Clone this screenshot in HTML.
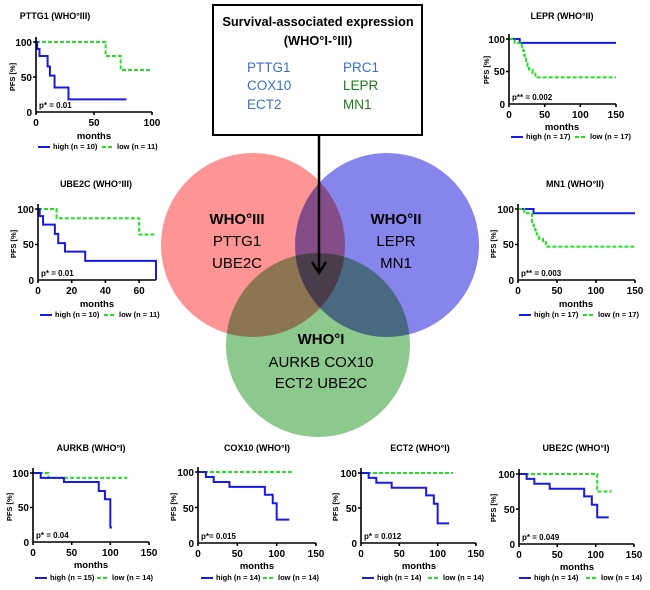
<!DOCTYPE html>
<html><head><meta charset="utf-8"><style>
body{margin:0;background:#fff}
svg{display:block;font-family:"Liberation Sans",Arial,sans-serif}
.t{font-weight:bold;font-size:9px;text-anchor:middle}
.tk{font-weight:bold;font-size:10px}
.m{font-weight:bold;font-size:9.5px;text-anchor:middle}
.lg{font-weight:bold;font-size:7.5px}
.p{font-weight:bold;font-size:8px}
.hi{fill:none;stroke:#1a1ae6;stroke-width:2}
.lo{fill:none;stroke:#22e022;stroke-width:2;stroke-dasharray:4 2}
.ax{stroke:#000;stroke-width:1.6;fill:none}
.v{mix-blend-mode:multiply}
</style></head><body>
<svg width="650" height="590" viewBox="0 0 650 590" xmlns="http://www.w3.org/2000/svg">
<!-- Venn -->
<g style="isolation:isolate">
<circle class="v" cx="253" cy="245" r="92" fill="#ff9494"/>
<circle class="v" cx="387" cy="245" r="92" fill="#8585eb"/>
<circle class="v" cx="318" cy="345" r="92" fill="#8cc98c"/>
</g>
<g font-size="15" text-anchor="middle">
<text x="237" y="224" font-weight="bold">WHO°III</text>
<text x="237" y="246">PTTG1</text>
<text x="237" y="268">UBE2C</text>
<text x="396" y="224" font-weight="bold">WHO°II</text>
<text x="396" y="246">LEPR</text>
<text x="396" y="268">MN1</text>
<text x="321" y="344" font-weight="bold">WHO°I</text>
<text x="321" y="367">AURKB  COX10</text>
<text x="321" y="388">ECT2  UBE2C</text>
</g>
<!-- box -->
<rect x="213" y="5" width="209" height="130" fill="#fff" stroke="#000" stroke-width="2"/>
<text x="318" y="26" font-size="12.8" font-weight="bold" text-anchor="middle">Survival-associated expression</text>
<text x="318" y="45" font-size="12.8" font-weight="bold" text-anchor="middle">(WHO°I-°III)</text>
<g font-size="13.5">
<text x="247" y="72" fill="#3a6fd0">PTTG1</text>
<text x="247" y="90" fill="#3a6fd0">COX10</text>
<text x="247" y="109" fill="#3a6fd0">ECT2</text>
<text x="343" y="72" fill="#3a6fd0">PRC1</text>
<text x="343" y="90" fill="#1e7a1e">LEPR</text>
<text x="343" y="109" fill="#1e7a1e">MN1</text>
</g>
<line x1="319" y1="135" x2="319" y2="270" stroke="#000" stroke-width="2.5"/>
<polyline points="312,262 319,273 326,262" fill="none" stroke="#000" stroke-width="2.5"/>

<!-- Plot 1 PTTG1 -->
<g>
<text class="t" x="55" y="19">PTTG1 (WHO°III)</text>
<g transform="translate(36,112) scale(1.16,-0.7)">
<polyline class="lo" vector-effect="non-scaling-stroke" points="0,100 60,100 60,80 73,80 73,60 100,60"/>
<polyline class="hi" vector-effect="non-scaling-stroke" points="0,100 1,100 1,90 3,90 3,80 10,80 10,65 12,65 12,52 16,52 16,35 28,35 28,18 78,18"/>
</g>
<path class="ax" d="M36,37V112H152M33,42H36M33,77H36M36,112v3M94,112v3M152,112v3"/>
<g class="tk" text-anchor="end"><text x="32" y="46">100</text><text x="32" y="81">50</text><text x="32" y="116">0</text></g>
<g class="tk" text-anchor="middle"><text x="36" y="126">0</text><text x="94" y="126">50</text><text x="152" y="126">100</text></g>
<text class="m" x="94" y="139">months</text>
<text class="p" x="39" y="108">p* = 0.01</text>
<text class="lg" transform="translate(15,77) rotate(-90)" text-anchor="middle" font-size="9">PFS [%]</text>
<line x1="38" y1="147" x2="50" y2="147" class="hi"/><text class="lg" x="53" y="149">high (n = 10)</text>
<line x1="102" y1="147" x2="114" y2="147" class="lo"/><text class="lg" x="117" y="149">low (n = 11)</text>
</g>

<!-- Plot 2 UBE2C III -->
<g>
<text class="t" x="96" y="187">UBE2C (WHO°III)</text>
<g transform="translate(38,280) scale(1.6857,-0.71)">
<polyline class="lo" vector-effect="non-scaling-stroke" points="0,100 11,100 11,87 60,87 60,64 70,64"/>
<polyline class="hi" vector-effect="non-scaling-stroke" points="0,100 1,100 1,90 3,90 3,78 10,78 10,65 12,65 12,52 16,52 16,40 28,40 28,27 70,27 70,0"/>
</g>
<path class="ax" d="M38,204V280H156M35,209H38M35,244.5H38M38,280v3M71.7,280v3M105.4,280v3M139.1,280v3"/>
<g class="tk" text-anchor="end"><text x="34" y="213">100</text><text x="34" y="248">50</text><text x="34" y="284">0</text></g>
<g class="tk" text-anchor="middle"><text x="38" y="294">0</text><text x="71.7" y="294">20</text><text x="105.4" y="294">40</text><text x="139.1" y="294">60</text></g>
<text class="m" x="97" y="307">months</text>
<text class="p" x="41" y="276">p* = 0.01</text>
<text class="lg" transform="translate(16,244) rotate(-90)" text-anchor="middle" font-size="9">PFS [%]</text>
<line x1="40" y1="315" x2="52" y2="315" class="hi"/><text class="lg" x="55" y="317">high (n = 10)</text>
<line x1="104" y1="315" x2="116" y2="315" class="lo"/><text class="lg" x="119" y="317">low (n = 11)</text>
</g>

<!-- Plot 3 LEPR -->
<g>
<text class="t" x="562" y="19">LEPR (WHO°II)</text>
<g transform="translate(509,104) scale(0.7133,-0.65)">
<polyline class="hi" vector-effect="non-scaling-stroke" points="0,100 15,100 15,94 150,94"/>
<polyline class="lo" vector-effect="non-scaling-stroke" points="0,100 8,100 8,94 18,94 18,88 20,88 20,82 21,82 21,76 22,76 22,70 24,70 24,64 26,64 26,58 28,58 28,53 33,53 33,47 37,47 37,41 150,41"/>
</g>
<path class="ax" d="M509,34V104H616M506,39H509M506,71.5H509M509,104v3M544.7,104v3M580.3,104v3M616,104v3"/>
<g class="tk" text-anchor="end"><text x="505" y="43">100</text><text x="505" y="75">50</text><text x="505" y="108">0</text></g>
<g class="tk" text-anchor="middle"><text x="509" y="118">0</text><text x="544.7" y="118">50</text><text x="580.3" y="118">100</text><text x="616" y="118">150</text></g>
<text class="m" x="562" y="130">months</text>
<text class="p" x="512" y="100">p** = 0.002</text>
<text class="lg" transform="translate(489,70) rotate(-90)" text-anchor="middle" font-size="9">PFS [%]</text>
<line x1="511" y1="137" x2="523" y2="137" class="hi"/><text class="lg" x="526" y="139">high (n = 17)</text>
<line x1="575" y1="137" x2="587" y2="137" class="lo"/><text class="lg" x="590" y="139">low (n = 17)</text>
</g>

<!-- Plot 4 MN1 -->
<g>
<text class="t" x="575" y="187">MN1 (WHO°II)</text>
<g transform="translate(518,280) scale(0.78,-0.71)">
<polyline class="hi" vector-effect="non-scaling-stroke" points="0,100 20,100 20,94 150,94"/>
<polyline class="lo" vector-effect="non-scaling-stroke" points="0,100 8,100 8,94 18,94 18,82 20,82 20,76 22,76 22,70 24,70 24,64 27,64 27,58 32,58 32,53 36,53 36,47 150,47"/>
</g>
<path class="ax" d="M518,204V280H635M515,209H518M515,244.5H518M518,280v3M557,280v3M596,280v3M635,280v3"/>
<g class="tk" text-anchor="end"><text x="514" y="213">100</text><text x="514" y="248">50</text><text x="514" y="284">0</text></g>
<g class="tk" text-anchor="middle"><text x="518" y="294">0</text><text x="557" y="294">50</text><text x="596" y="294">100</text><text x="635" y="294">150</text></g>
<text class="m" x="576" y="307">months</text>
<text class="p" x="521" y="276">p** = 0.003</text>
<text class="lg" transform="translate(496,244) rotate(-90)" text-anchor="middle" font-size="9">PFS [%]</text>
<line x1="519" y1="315" x2="531" y2="315" class="hi"/><text class="lg" x="534" y="317">high (n = 17)</text>
<line x1="583" y1="315" x2="595" y2="315" class="lo"/><text class="lg" x="598" y="317">low (n = 17)</text>
</g>

<!-- Plot 5 AURKB -->
<g>
<text class="t" x="91" y="451">AURKB (WHO°I)</text>
<g transform="translate(33,542) scale(0.7733,-0.69)">
<polyline class="lo" vector-effect="non-scaling-stroke" points="0,100 20,100 20,93 122,93"/>
<polyline class="hi" vector-effect="non-scaling-stroke" points="0,100 10,100 10,93 40,93 40,87 85,87 85,74 93,74 93,62 100,62 100,21 102,21"/>
</g>
<path class="ax" d="M33,468V542H149M30,473H33M30,507.5H33M33,542v3M71.7,542v3M110.3,542v3M149,542v3"/>
<g class="tk" text-anchor="end"><text x="29" y="477">100</text><text x="29" y="511">50</text><text x="29" y="546">0</text></g>
<g class="tk" text-anchor="middle"><text x="33" y="556">0</text><text x="71.7" y="556">50</text><text x="110.3" y="556">100</text><text x="149" y="556">150</text></g>
<text class="m" x="91" y="568">months</text>
<text class="p" x="36" y="538">p* =  0.04</text>
<text class="lg" transform="translate(12,507) rotate(-90)" text-anchor="middle" font-size="9">PFS [%]</text>
<line x1="35" y1="578" x2="47" y2="578" class="hi"/><text class="lg" x="50" y="580">high (n = 15)</text>
<line x1="97" y1="578" x2="109" y2="578" class="lo"/><text class="lg" x="112" y="580">low (n = 14)</text>
</g>

<!-- Plot 6 COX10 -->
<g>
<text class="t" x="257" y="451">COX10 (WHO°I)</text>
<g transform="translate(198,543) scale(0.7867,-0.71)">
<polyline class="lo" vector-effect="non-scaling-stroke" points="0,100 122,100"/>
<polyline class="hi" vector-effect="non-scaling-stroke" points="0,100 10,100 10,93 20,93 20,86 40,86 40,79 85,79 85,68 95,68 95,56 100,56 100,33 116,33"/>
</g>
<path class="ax" d="M198,467V543H316M195,472H198M195,507.5H198M198,543v3M237.3,543v3M276.7,543v3M316,543v3"/>
<g class="tk" text-anchor="end"><text x="194" y="476">100</text><text x="194" y="512">50</text><text x="194" y="547">0</text></g>
<g class="tk" text-anchor="middle"><text x="198" y="557">0</text><text x="237.3" y="557">50</text><text x="276.7" y="557">100</text><text x="316" y="557">150</text></g>
<text class="m" x="257" y="569">months</text>
<text class="p" x="201" y="539">p*= 0.015</text>
<text class="lg" transform="translate(176,507) rotate(-90)" text-anchor="middle" font-size="9">PFS [%]</text>
<line x1="201" y1="578" x2="213" y2="578" class="hi"/><text class="lg" x="216" y="580">high (n = 14)</text>
<line x1="263" y1="578" x2="275" y2="578" class="lo"/><text class="lg" x="278" y="580">low (n = 14)</text>
</g>

<!-- Plot 7 ECT2 -->
<g>
<text class="t" x="420" y="451">ECT2 (WHO°I)</text>
<g transform="translate(361,543) scale(0.7667,-0.70)">
<polyline class="lo" vector-effect="non-scaling-stroke" points="0,100 120,100"/>
<polyline class="hi" vector-effect="non-scaling-stroke" points="0,100 10,100 10,93 20,93 20,86 40,86 40,79 85,79 85,68 95,68 95,56 100,56 100,28 115,28"/>
</g>
<path class="ax" d="M361,468V543H476M358,473H361M358,508H361M361,543v3M399.3,543v3M437.7,543v3M476,543v3"/>
<g class="tk" text-anchor="end"><text x="357" y="477">100</text><text x="357" y="512">50</text><text x="357" y="547">0</text></g>
<g class="tk" text-anchor="middle"><text x="361" y="557">0</text><text x="399.3" y="557">50</text><text x="437.7" y="557">100</text><text x="476" y="557">150</text></g>
<text class="m" x="419" y="569">months</text>
<text class="p" x="364" y="539">p* = 0.012</text>
<text class="lg" transform="translate(338,507) rotate(-90)" text-anchor="middle" font-size="9">PFS [%]</text>
<line x1="362" y1="578" x2="374" y2="578" class="hi"/><text class="lg" x="377" y="580">high (n = 14)</text>
<line x1="428" y1="578" x2="440" y2="578" class="lo"/><text class="lg" x="443" y="580">low (n = 14)</text>
</g>

<!-- Plot 8 UBE2C I -->
<g>
<text class="t" x="576" y="451">UBE2C (WHO°I)</text>
<g transform="translate(519,544) scale(0.7667,-0.70)">
<polyline class="lo" vector-effect="non-scaling-stroke" points="0,100 102,100 102,75 121,75"/>
<polyline class="hi" vector-effect="non-scaling-stroke" points="0,100 10,100 10,93 20,93 20,86 40,86 40,79 85,79 85,68 95,68 95,56 102,56 102,38 117,38"/>
</g>
<path class="ax" d="M519,469V544H634M516,474H519M516,509H519M519,544v3M557.3,544v3M595.7,544v3M634,544v3"/>
<g class="tk" text-anchor="end"><text x="515" y="478">100</text><text x="515" y="513">50</text><text x="515" y="548">0</text></g>
<g class="tk" text-anchor="middle"><text x="519" y="558">0</text><text x="557.3" y="558">50</text><text x="595.7" y="558">100</text><text x="634" y="558">150</text></g>
<text class="m" x="577" y="570">months</text>
<text class="p" x="522" y="540">p* = 0.049</text>
<text class="lg" transform="translate(496,508) rotate(-90)" text-anchor="middle" font-size="9">PFS [%]</text>
<line x1="519" y1="578" x2="531" y2="578" class="hi"/><text class="lg" x="534" y="580">high (n = 14)</text>
<line x1="586" y1="578" x2="598" y2="578" class="lo"/><text class="lg" x="601" y="580">low (n = 14)</text>
</g>
</svg>
</body></html>
